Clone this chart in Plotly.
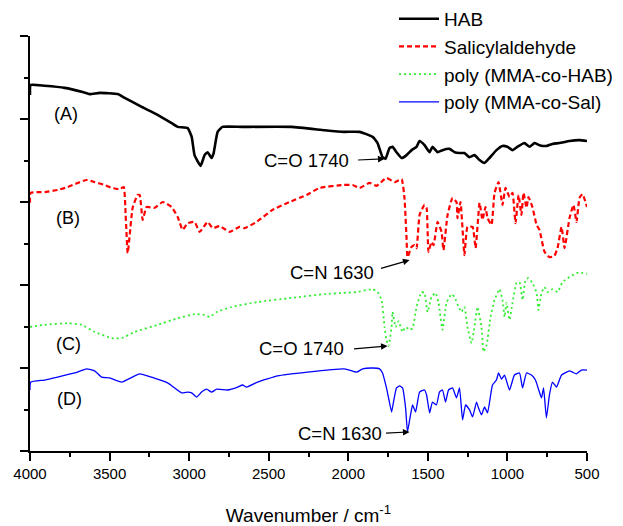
import plotly.graph_objects as go

# ---- data (wavenumber cm^-1, transmittance offset a.u.) ----
hab_wn = [4000, 3996, 3908, 3782, 3669, 3625, 3562, 3449, 3405, 3298, 3198, 3110, 3072, 3009, 2984, 2966, 2928,
          2903, 2884, 2859, 2846, 2821, 2790, 2670, 2356, 2149, 2030, 1929, 1847, 1816, 1785, 1766, 1741, 1722,
          1697, 1665, 1634, 1602, 1571, 1552, 1521, 1489, 1471, 1439, 1408, 1364, 1332, 1301, 1270, 1238, 1207,
          1175, 1144, 1113, 1069, 1031, 1000, 968, 937, 893, 861, 830, 799, 755, 717, 673, 610, 547, 500]
hab_t = [85.8, 88.2, 88.0, 87.5, 86.5, 86.0, 86.3, 86.0, 85.1, 82.9, 81.0, 79.0, 78.1, 77.8, 75.7, 71.3, 68.7,
         71.3, 72.0, 70.6, 71.8, 76.9, 78.1, 78.1, 78.1, 77.3, 76.9, 76.9, 75.7, 74.2, 70.8, 70.4, 73.0, 73.3,
         72.0, 70.6, 71.3, 72.5, 73.3, 74.7, 73.7, 72.0, 73.3, 72.0, 72.5, 72.8, 72.0, 71.8, 71.8, 70.8, 71.3,
         70.1, 69.4, 70.6, 72.5, 73.5, 73.3, 72.5, 73.3, 74.2, 73.3, 74.2, 73.7, 73.5, 74.0, 74.2, 74.7, 74.9, 74.7]

sal_wn = [4000, 3996, 3908, 3826, 3763, 3700, 3644, 3594, 3531, 3487, 3437, 3411, 3399, 3386, 3355, 3324, 3311,
          3292, 3267, 3217, 3166, 3110, 3072, 3041, 3009, 2966, 2934, 2884, 2852, 2808, 2746, 2683, 2651, 2576,
          2476, 2369, 2262, 2180, 2030, 1973, 1929, 1866, 1822, 1760, 1709, 1665, 1647, 1634, 1628, 1602, 1584,
          1571, 1552, 1521, 1508, 1496, 1477, 1464, 1439, 1414, 1402, 1376, 1345, 1320, 1314, 1295, 1270, 1251,
          1219, 1200, 1175, 1157, 1138, 1125, 1100, 1081, 1056, 1031, 1012, 987, 968, 949, 930, 912, 899, 880,
          868, 843, 817, 799, 767, 736, 705, 685, 660, 641, 610, 585, 566, 547, 528, 500]
sal_t = [59.8, 62.2, 62.4, 62.9, 63.6, 64.6, 65.3, 64.8, 64.1, 63.4, 63.1, 63.6, 56.9, 47.7, 58.6, 61.7, 61.7,
         55.7, 58.8, 58.6, 60.0, 58.8, 56.4, 53.3, 54.9, 55.2, 52.8, 55.2, 53.7, 54.2, 52.8, 54.0, 53.7, 55.2,
         58.1, 60.0, 61.7, 63.4, 64.1, 64.1, 63.4, 64.6, 63.9, 65.8, 64.8, 65.5, 61.0, 51.3, 46.7, 49.2, 49.6,
         48.9, 56.9, 59.3, 58.6, 48.0, 50.4, 49.6, 55.2, 52.8, 48.4, 56.9, 61.0, 60.0, 56.1, 60.0, 47.2, 54.0,
         54.0, 48.9, 59.8, 55.7, 58.8, 56.1, 54.5, 62.2, 64.8, 59.3, 63.4, 61.2, 62.2, 54.9, 61.7, 56.9, 62.2, 58.6,
         61.2, 58.8, 54.5, 53.3, 48.0, 46.7, 47.0, 48.9, 54.0, 48.9, 56.1, 59.3, 55.2, 61.0, 61.9, 58.8]

phab_wn = [4000, 3908, 3763, 3675, 3594, 3487, 3424, 3342, 3198, 3072, 2966, 2903, 2871, 2827, 2733, 2570, 2356,
           2149, 2030, 1948, 1847, 1816, 1791, 1772, 1760, 1747, 1728, 1722, 1703, 1684, 1659, 1640, 1615, 1596,
           1571, 1540, 1521, 1502, 1477, 1452, 1433, 1408, 1383, 1351, 1332, 1307, 1289, 1270, 1251, 1226, 1207,
           1188, 1163, 1150, 1131, 1106, 1081, 1050, 1031, 1018, 1006, 987, 968, 943, 924, 905, 886, 868, 843,
           817, 805, 786, 767, 748, 717, 685, 654, 610, 566, 528, 500]
phab_t = [29.9, 30.4, 30.8, 30.4, 28.7, 27.2, 27.2, 28.7, 30.4, 32.0, 33.0, 32.8, 32.3, 33.5, 34.7, 35.9, 36.9,
          37.8, 38.1, 38.3, 39.0, 38.3, 36.4, 29.9, 26.7, 25.3, 29.9, 33.5, 29.9, 31.3, 28.7, 29.9, 29.2, 29.6,
          34.7, 38.3, 38.1, 33.5, 37.1, 38.1, 35.7, 29.2, 35.7, 37.8, 37.1, 34.7, 33.5, 34.7, 29.9, 26.0, 29.9,
          34.7, 29.9, 23.9, 25.5, 32.3, 36.4, 39.0, 36.4, 32.3, 35.7, 31.6, 35.7, 40.5, 40.7, 36.4, 41.2, 41.7, 40.5,
          38.1, 34.0, 38.1, 39.5, 38.3, 39.0, 38.3, 40.7, 41.9, 42.9, 42.9, 42.7]

psal_wn = [4000, 3996, 3908, 3826, 3719, 3644, 3594, 3550, 3499, 3424, 3311, 3236, 3135, 3047, 3009, 2984, 2953,
           2922, 2890, 2859, 2827, 2758, 2695, 2664, 2639, 2570, 2444, 2256, 2030, 1992, 1948, 1910, 1847, 1804,
           1785, 1760, 1747, 1728, 1716, 1697, 1678, 1659, 1640, 1628, 1609, 1596, 1577, 1552, 1521, 1508, 1489,
           1471, 1446, 1427, 1408, 1389, 1370, 1345, 1320, 1301, 1282, 1263, 1238, 1219, 1194, 1182, 1163, 1144,
           1125, 1094, 1069, 1056, 1037, 1018, 987, 956, 924, 905, 880, 849, 824, 799, 786, 773, 755, 736, 717,
           692, 660, 610, 591, 566, 535, 500]
psal_t = [14.7, 16.6, 17.1, 17.8, 18.8, 19.8, 19.3, 17.8, 17.6, 16.6, 18.6, 17.8, 16.4, 14.0, 14.2, 14.0, 13.0,
          14.2, 14.9, 14.2, 14.9, 14.7, 15.4, 15.9, 15.4, 16.6, 18.1, 19.0, 19.8, 19.5, 19.0, 19.8, 20.0, 19.8,
          18.8, 15.2, 12.8, 9.4, 11.8, 15.2, 15.7, 15.2, 10.4, 4.6, 8.7, 11.1, 9.4, 14.2, 14.7, 13.5, 9.2,
          11.8, 11.1, 14.2, 14.7, 11.8, 14.7, 15.2, 12.8, 15.2, 7.5, 11.1, 9.9, 8.2, 11.8, 10.4, 8.7, 10.6,
          9.2, 15.9, 17.1, 18.8, 17.3, 18.3, 14.7, 18.3, 18.8, 15.2, 18.8, 18.3, 17.1, 14.2, 12.8, 15.2, 8.0, 13.5, 16.6,
          15.4, 18.3, 19.3, 19.0, 18.6, 19.5, 19.5]

series_names = ["HAB", "Salicylaldehyde", "poly (MMA-co-HAB)", "poly (MMA-co-Sal)"]
curve_labels = ["(A)", "(B)", "(C)", "(D)"]
label_wn = [3776, 3763, 3757, 3751]
label_t = [81.2, 56.1, 25.8, 12.5]

peak_texts = ["C=O 1740", "C=N 1630", "C=O 1740", "C=N 1630"]
peak_text_wn = [2262, 2100, 2293, 2055]
peak_text_t = [70.1, 43.1, 24.8, 4.3]
arrow_tail_wn = [1948, 1804, 1973, 1772]
arrow_tail_t = [70.1, 43.9, 24.6, 4.3]
arrow_head_wn = [1772, 1615, 1753, 1615]
arrow_head_t = [70.4, 46.0, 25.3, 4.6]

xticks = [4000, 3500, 3000, 2500, 2000, 1500, 1000, 500]

FONT = "Liberation Sans, Arial, sans-serif"

fig = go.Figure()
styles = [
    dict(color="#000000", width=2.6, dash="solid"),
    dict(color="#FF0000", width=2.2, dash="5px,3px"),
    dict(color="#33EE33", width=1.8, dash="2px,3px"),
    dict(color="#0000FF", width=1.3, dash="solid"),
]
for name, xs, ys, st in zip(series_names, [hab_wn, sal_wn, phab_wn, psal_wn],
                            [hab_t, sal_t, phab_t, psal_t], styles):
    fig.add_trace(go.Scatter(x=xs, y=ys, mode="lines", name=name,
                             line=dict(shape="spline", smoothing=0.4, **st)))

ann = []
for t, x, y in zip(curve_labels, label_wn, label_t):
    ann.append(dict(x=x, y=y, xref="x", yref="y", text=t, showarrow=False,
                    font=dict(size=18, color="black", family=FONT), xanchor="center", yanchor="middle"))
for t, x, y in zip(peak_texts, peak_text_wn, peak_text_t):
    ann.append(dict(x=x, y=y, xref="x", yref="y", text=t, showarrow=False,
                    font=dict(size=18.5, color="black", family=FONT), xanchor="center", yanchor="middle"))
for hx, hy, tx, ty in zip(arrow_head_wn, arrow_head_t, arrow_tail_wn, arrow_tail_t):
    ann.append(dict(x=hx, y=hy, ax=tx, ay=ty, xref="x", yref="y", axref="x", ayref="y", text="",
                    showarrow=True, arrowhead=2, arrowsize=1.1, arrowwidth=1.2, arrowcolor="black", standoff=0))

fig.update_layout(
    width=623, height=518,
    margin=dict(l=22, r=44, t=28, b=75, autoexpand=False),
    paper_bgcolor="white", plot_bgcolor="white",
    font=dict(family=FONT, color="black", size=15),
    showlegend=True,
    legend=dict(x=0.6535, y=1.087, xanchor="left", yanchor="top", bgcolor="rgba(0,0,0,0)",
                font=dict(size=19, family=FONT), tracegroupgap=0, itemwidth=40),
    annotations=ann,
)
fig.update_xaxes(range=[4000, 500], tickvals=xticks, ticktext=[str(v) for v in xticks],
                 showline=True, linecolor="black", linewidth=1.5, showgrid=False, zeroline=False,
                 ticks="outside", ticklen=8, tickwidth=1.5, tickcolor="black",
                 minor=dict(dtick=250, ticks="outside", ticklen=4, tickwidth=1.5, tickcolor="black", showgrid=False),
                 tickfont=dict(size=15, family=FONT),
                 title=dict(text="Wavenumber / cm<sup>-1</sup>", font=dict(size=19, family=FONT), standoff=35))
fig.update_yaxes(range=[0, 100], dtick=20, tick0=0, showticklabels=False,
                 showline=True, linecolor="black", linewidth=1.5, showgrid=False, zeroline=False,
                 ticks="outside", ticklen=8, tickwidth=1.5, tickcolor="black",
                 minor=dict(dtick=10, ticks="outside", ticklen=4, tickwidth=1.5, tickcolor="black", showgrid=False))

fig.write_html("out.html")
